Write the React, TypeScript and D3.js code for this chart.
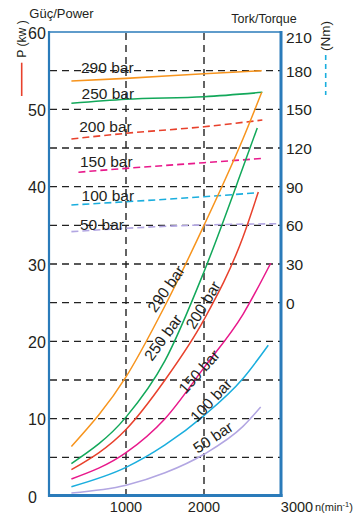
import React from "react";
import * as d3 from "d3";

// ---- data ----
const rpmTicks = [1000, 2000, 3000];
const powerTicks = [0, 10, 20, 30, 40, 50, 60];
const torqueTicks = [0, 30, 60, 90, 120, 150, 180, 210];
const gridPower = [5, 10, 15, 20, 25, 30, 35, 40, 45, 50, 55];
const gridRpm = [1000, 2000];

const pressures = ["290 bar", "250 bar", "200 bar", "150 bar", "100 bar", "50 bar"];
const colors = ["#f7941d", "#12a85a", "#e8412c", "#e8198b", "#1aaede", "#b2a6e2"];

// power curves [rpm, kW]
const power290 = [[300, 6.4], [1000, 15.4], [1500, 24.6], [2000, 35], [2500, 46.2], [2740, 52.2]];
const power250 = [[300, 4.2], [1000, 10.2], [1500, 17.5], [2000, 29], [2500, 42.5], [2683, 47.6]];
const power200 = [[300, 3.4], [1000, 8.6], [1500, 15], [2000, 22.8], [2500, 33.5], [2696, 39.3]];
const power150 = [[300, 2.2], [1000, 5.6], [1500, 10], [2000, 16.6], [2500, 23.5], [2855, 30.1]];
const power100 = [[300, 1.2], [1000, 3.7], [1500, 6.6], [2000, 10.4], [2500, 15.2], [2824, 19.5]];
const power50 = [[300, 0.4], [1000, 1.4], [1500, 3.0], [2000, 5.4], [2500, 9.0], [2727, 11.5]];
const powerSeries = [power290, power250, power200, power150, power100, power50];

// torque curves [rpm, Nm]
const torque290 = [[300, 172], [1000, 174], [2000, 177.6], [2740, 180]];
const torque250 = [[300, 154.7], [1000, 157.8], [2000, 159.8], [2748, 163.2]];
const torque200 = [[300, 127], [1000, 131.4], [2000, 136.5], [2748, 141.7]];
const torque150 = [[390, 101.2], [1000, 104.2], [2000, 108.6], [2770, 112]];
const torque100 = [[300, 75.8], [1000, 78.3], [2000, 82.2], [2696, 85.3]];
const torque50 = [[300, 55.1], [1000, 57.7], [2000, 60.3], [2950, 61.2]];
const torqueSeries = [torque290, torque250, torque200, torque150, torque100, torque50];
const torqueSolid = [true, true, false, false, false, false];

// label anchors
const torqueLabelAt = [[423, 182.1], [430, 161.9], [400, 136.3], [410, 109.4], [430, 82.8], [410, 61.0]];
const powerLabelAt = [[1513, 26.8], [1474, 20.5], [1987, 24.7], [1936, 16.1], [2090, 12.4], [2115, 7.6]];
const powerLabelAngle = [-55, -54, -59, -48, -47, -34];

const FONT = "'Liberation Sans', Arial, Helvetica, sans-serif";
const TXT = "#231f20";
const BLUE = "#2a7bba";

export default function App() {
  const x = d3.scaleLinear().domain([0, 3000]).range([48, 282]);
  const yP = d3.scaleLinear().domain([0, 60]).range([496, 32]);
  const yT = d3.scaleLinear().domain([-150, 210]).range([496, 32]);

  const powerLine = d3
    .line<number[]>()
    .x((d) => x(d[0]))
    .y((d) => yP(d[1]))
    .curve(d3.curveMonotoneX);
  const torqueLine = d3
    .line<number[]>()
    .x((d) => x(d[0]))
    .y((d) => yT(d[1]))
    .curve(d3.curveMonotoneX);

  return (
    <svg
      width={360}
      height={514}
      style={{ position: "absolute", left: 0, top: 0, background: "#fff" }}
      fontFamily={FONT}
    >
      {/* grid */}
      {gridPower.map((p) => (
        <line
          key={"gh" + p}
          x1={50}
          x2={280}
          y1={yP(p)}
          y2={yP(p)}
          stroke="#222"
          strokeWidth={1.4}
          strokeDasharray="7,5"
        />
      ))}
      {gridRpm.map((r) => (
        <line
          key={"gv" + r}
          x1={x(r)}
          x2={x(r)}
          y1={33}
          y2={494}
          stroke="#222"
          strokeWidth={1.4}
          strokeDasharray="7,5"
        />
      ))}

      {/* torque lines */}
      {torqueSeries.map((s, i) => (
        <path
          key={"t" + i}
          d={torqueLine(s as any) || ""}
          fill="none"
          stroke={colors[i]}
          strokeWidth={1.6}
          strokeDasharray={torqueSolid[i] ? undefined : "7,4"}
        />
      ))}

      {/* power curves */}
      {powerSeries.map((s, i) => (
        <path
          key={"p" + i}
          d={powerLine(s as any) || ""}
          fill="none"
          stroke={colors[i]}
          strokeWidth={1.5}
        />
      ))}

      {/* torque labels */}
      {pressures.map((t, i) => (
        <text
          key={"tl" + i}
          x={x(torqueLabelAt[i][0])}
          y={yT(torqueLabelAt[i][1])}
          dominantBaseline="central"
          fontSize={15.5}
          fill={TXT}
        >
          {t}
        </text>
      ))}

      {/* power labels */}
      {pressures.map((t, i) => {
        const cx = x(powerLabelAt[i][0]);
        const cy = yP(powerLabelAt[i][1]);
        return (
          <text
            key={"pl" + i}
            x={cx}
            y={cy}
            textAnchor="middle"
            dominantBaseline="central"
            fontSize={15.5}
            fill={TXT}
            transform={`rotate(${powerLabelAngle[i]},${cx},${cy})`}
          >
            {t}
          </text>
        );
      })}

      {/* frame */}
      <line x1={49} x2={281} y1={32} y2={32} stroke={BLUE} strokeWidth={1.6} />
      <line x1={49} x2={49} y1={31} y2={497} stroke={BLUE} strokeWidth={2.2} />
      <line x1={48} x2={282.5} y1={495.5} y2={495.5} stroke={BLUE} strokeWidth={3} />
      <line x1={281} x2={281} y1={31} y2={497} stroke={BLUE} strokeWidth={3} />

      {/* left ticks */}
      {powerTicks.map((p) => (
        <text key={"lt" + p} x={28} y={yP(p) + 1} dominantBaseline="central" fontSize={16} fill={TXT}>
          {p}
        </text>
      ))}
      {/* right ticks */}
      {torqueTicks.map((t) => (
        <text
          key={"rt" + t}
          x={286}
          y={t === 210 ? yT(t) + 5 : yT(t) + 0.5}
          dominantBaseline="central"
          fontSize={15.5}
          fill={TXT}
        >
          {t}
        </text>
      ))}
      {/* bottom ticks */}
      {rpmTicks.map((r) => (
        <text
          key={"bt" + r}
          x={r === 3000 ? x(r) + 15 : x(r)}
          y={506.5}
          textAnchor="middle"
          dominantBaseline="central"
          fontSize={14.5}
          fill={TXT}
        >
          {r}
        </text>
      ))}
      <text x={315} y={511} fontSize={11} fill={TXT}>
        n(min
        <tspan fontSize={7.5} dy={-4}>
          -1
        </tspan>
        <tspan dy={4}>)</tspan>
      </text>

      {/* titles */}
      <text x={61.5} y={13} textAnchor="middle" dominantBaseline="central" fontSize={13} fill={TXT}>
        Güç/Power
      </text>
      <text
        x={21.7}
        y={39}
        textAnchor="middle"
        dominantBaseline="central"
        fontSize={12.2}
        fill={TXT}
        transform="rotate(-90,21.7,39)"
      >
        P (kw )
      </text>
      <line x1={21.7} x2={21.7} y1={62.7} y2={96} stroke="#e8412c" strokeWidth={1.6} />

      <text x={264} y={19.3} textAnchor="middle" dominantBaseline="central" fontSize={12.5} fill={TXT}>
        Tork/Torque
      </text>
      <text
        x={325.7}
        y={36}
        textAnchor="middle"
        dominantBaseline="central"
        fontSize={13.5}
        fill={TXT}
        transform="rotate(-90,325.7,36)"
      >
        (Nm)
      </text>
      <line
        x1={325.7}
        x2={325.7}
        y1={55}
        y2={95}
        stroke="#1aaede"
        strokeWidth={1.6}
        strokeDasharray="5,4"
      />
    </svg>
  );
}
